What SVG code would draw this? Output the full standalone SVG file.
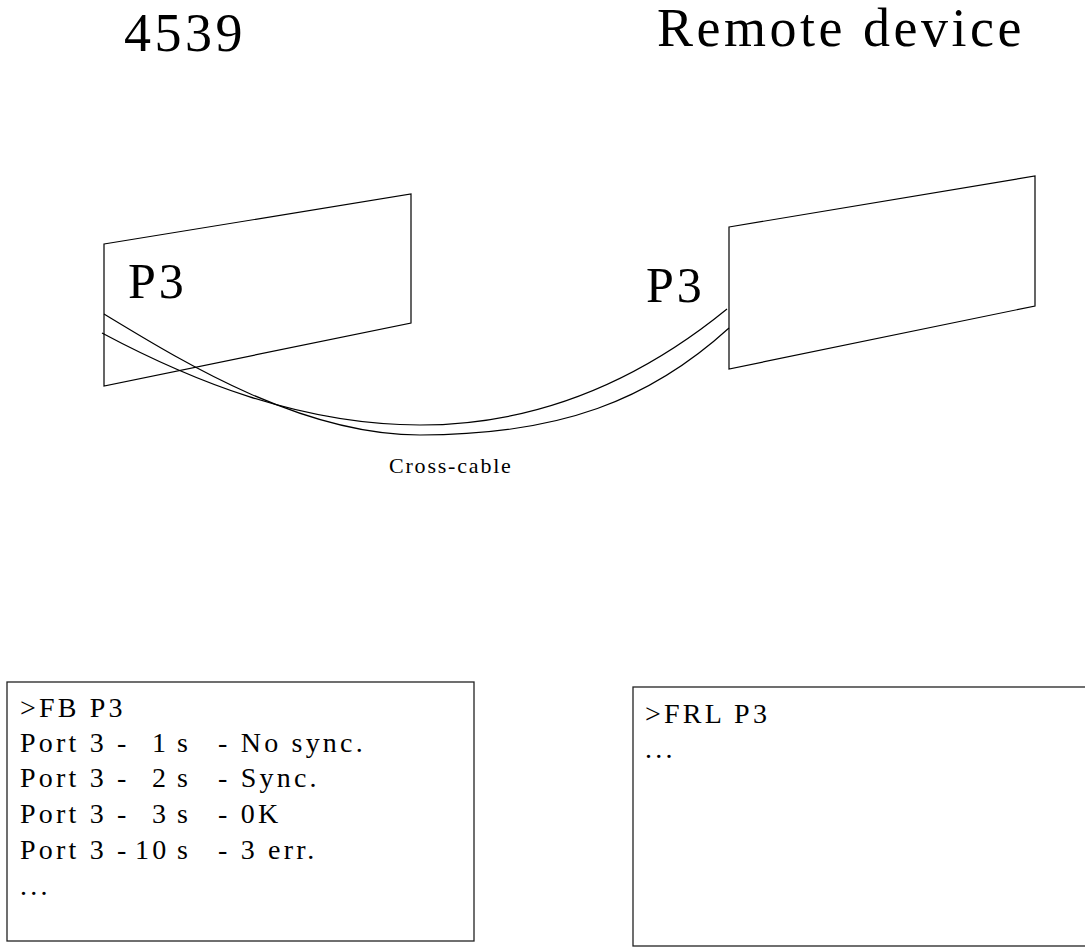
<svg xmlns="http://www.w3.org/2000/svg" width="1085" height="952" viewBox="0 0 1085 952">
<style>
.bg{fill:#fff}
.shape{fill:none;stroke:#000;stroke-width:1.2}
.box{fill:#fff;stroke:#222;stroke-width:1.3}
.cable{fill:none;stroke:#000;stroke-width:1.2}
.t{font-family:"Liberation Serif","Times New Roman",serif;fill:#000}
.title{font-size:54px;letter-spacing:3.5px}
.port{font-size:50px;letter-spacing:3px}
.small{font-size:22px;letter-spacing:1.8px}
.con{font-size:28px;letter-spacing:3.2px}
</style>
<rect class="bg" x="0" y="0" width="1085" height="952"/>
<g id="title-4539"><text class="t title" x="124" y="51">4539</text></g>
<g id="title-remote"><text class="t title" x="657" y="46">Remote device</text></g>
<g id="device-4539">
<polygon class="shape" points="104,244 411,194 411,323 104,386"/>
<text class="t port" x="128" y="298">P3</text>
</g>
<g id="device-remote">
<polygon class="shape" points="729,227 1035,176 1035,306 729,369"/>
<text class="t port" x="646" y="302">P3</text>
</g>
<g id="connectors">
<path class="cable" d="M104,314 C180,360 300,435 420,435 C560,435 650,400 729,328"/>
<path class="cable" d="M102,333 C190,380 300,425 420,425 C540,425 640,380 727,309"/>
<text class="t small" x="389" y="473">Cross-cable</text>
</g>
<g id="console-4539">
<rect class="box" x="7" y="682" width="467" height="259"/>
<text class="t con" x="20" y="717">&gt;FB P3</text>
<text class="t con" y="752"><tspan x="20">Port 3 -</tspan><tspan x="152">1</tspan><tspan x="177">s</tspan><tspan x="218">- No sync.</tspan></text>
<text class="t con" y="787"><tspan x="20">Port 3 -</tspan><tspan x="152">2</tspan><tspan x="177">s</tspan><tspan x="218">- Sync.</tspan></text>
<text class="t con" y="823"><tspan x="20">Port 3 -</tspan><tspan x="152">3</tspan><tspan x="177">s</tspan><tspan x="218">- 0K</tspan></text>
<text class="t con" y="859"><tspan x="20">Port 3 -</tspan><tspan x="135">10</tspan><tspan x="177">s</tspan><tspan x="218">- 3 err.</tspan></text>
<text class="t con" x="20" y="895">...</text>
</g>
<g id="console-remote">
<rect class="box" x="633" y="687" width="470" height="259"/>
<text class="t con" x="645" y="723">&gt;FRL P3</text>
<text class="t con" x="645" y="758">...</text>
</g>
</svg>
